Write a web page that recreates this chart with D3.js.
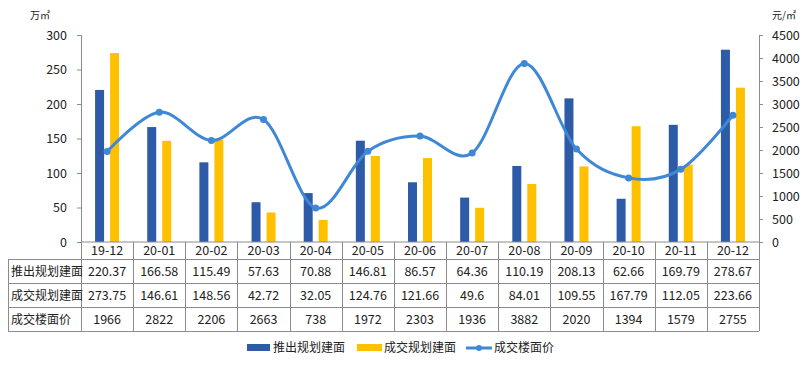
<!DOCTYPE html>
<html><head><meta charset="utf-8">
<script src="https://cdn.jsdelivr.net/npm/d3@7"></script>
<style>body{margin:0;background:#fff}svg{display:block;font-family:"Microsoft YaHei","Noto Sans CJK SC",sans-serif}</style>
</head><body><svg id="c" width="805" height="366"></svg>
<script>
const categories=["19-12","20-01","20-02","20-03","20-04","20-05","20-06","20-07","20-08","20-09","20-10","20-11","20-12"];
const supplyArea=[220.37,166.58,115.49,57.63,70.88,146.81,86.57,64.36,110.19,208.13,62.66,169.79,278.67];
const dealArea=[273.75,146.61,148.56,42.72,32.05,124.76,121.66,49.6,84.01,109.55,167.79,112.05,223.66];
const dealPrice=[1966,2822,2206,2663,738,1972,2303,1936,3882,2020,1394,1579,2755];
const leftTicks=[0,50,100,150,200,250,300];
const rightTicks=[0,500,1000,1500,2000,2500,3000,3500,4000,4500];
const seriesNames=["推出规划建面","成交规划建面","成交楼面价"];
const rowValues=[supplyArea.map(String),dealArea.map(String),dealPrice.map(String)];
const colors=["#2E5BA7","#FFC000","#3F88D5"];
const numFont="'Noto Sans CJK SC',sans-serif";

const svg=d3.select("#c");
const L=81,R=759,T=35,B=242;
const x=d3.scaleBand().domain(categories).range([L,R]);
const yL=d3.scaleLinear().domain([0,300]).range([B,T]);
const yR=d3.scaleLinear().domain([0,4500]).range([B,T]);
const axisColor="#8c8c8c";

// axes
const gl=svg.append("g").attr("transform",`translate(${L},0)`).call(d3.axisLeft(yL).tickValues(leftTicks).tickFormat(d3.format("d")).tickSize(4).tickPadding(10));
const gr=svg.append("g").attr("transform",`translate(${R},0)`).call(d3.axisRight(yR).tickValues(rightTicks).tickFormat(d3.format("d")).tickSize(4).tickPadding(9));
[gl,gr].forEach(g=>{g.selectAll("path,line").attr("stroke",axisColor);g.selectAll("text").attr("font-size",12.5).attr("fill","#222").attr("font-family",numFont);});

svg.append("text").attr("x",30).attr("y",19).attr("font-size",10).attr("fill","#222").text("万㎡");
svg.append("text").attr("x",772).attr("y",19).attr("font-size",10).attr("fill","#222").text("元/㎡");

// bars
const bw=9,off=7.5;
svg.append("g").selectAll("rect").data(supplyArea).join("rect")
 .attr("x",(d,i)=>x(categories[i])+x.bandwidth()/2-off-bw/2).attr("width",bw)
 .attr("y",d=>yL(d)).attr("height",d=>B-yL(d)).attr("fill",colors[0]);
svg.append("g").selectAll("rect").data(dealArea).join("rect")
 .attr("x",(d,i)=>x(categories[i])+x.bandwidth()/2+off-bw/2).attr("width",bw)
 .attr("y",d=>yL(d)).attr("height",d=>B-yL(d)).attr("fill",colors[1]);

// line
const line=d3.line().x((d,i)=>x(categories[i])+x.bandwidth()/2).y(d=>yR(d)).curve(d3.curveCardinal.tension(0));
svg.append("path").datum(dealPrice).attr("d",line).attr("fill","none").attr("stroke",colors[2]).attr("stroke-width",3);
svg.append("g").selectAll("circle").data(dealPrice).join("circle")
 .attr("cx",(d,i)=>x(categories[i])+x.bandwidth()/2).attr("cy",d=>yR(d)).attr("r",3.5).attr("fill",colors[2]);

// table
const tl=8, rows=[B,259,283,307,331];
const tg=svg.append("g");
const gridColor="#8c8c8c";
tg.append("line").attr("x1",L).attr("x2",R).attr("y1",B).attr("y2",B).attr("stroke",gridColor);
rows.slice(1).forEach(yy=>tg.append("line").attr("x1",tl).attr("x2",R).attr("y1",yy+0.5).attr("y2",yy+0.5).attr("stroke",gridColor));
tg.append("line").attr("x1",tl+0.5).attr("x2",tl+0.5).attr("y1",rows[1]).attr("y2",rows[4]).attr("stroke",gridColor);
categories.forEach((c,i)=>{const xx=Math.round(x(c))+0.5;tg.append("line").attr("x1",xx).attr("x2",xx).attr("y1",B).attr("y2",rows[4]).attr("stroke",gridColor);});
tg.append("line").attr("x1",R+0.5).attr("x2",R+0.5).attr("y1",B).attr("y2",rows[4]).attr("stroke",gridColor);
categories.forEach(c=>tg.append("text").attr("x",x(c)+x.bandwidth()/2).attr("y",(rows[0]+rows[1])/2+4.5).attr("text-anchor","middle").attr("font-size",12.5).attr("fill","#222").attr("font-family",numFont).text(c));
rowValues.forEach((vals,r)=>{
 const cy=(rows[r+1]+rows[r+2])/2+4.5;
 tg.append("text").attr("x",tl+3).attr("y",cy).attr("font-size",12).attr("fill","#222").text(seriesNames[r]);
 vals.forEach((v,i)=>tg.append("text").attr("x",x(categories[i])+x.bandwidth()/2).attr("y",cy).attr("text-anchor","middle").attr("font-size",12.5).attr("fill","#222").attr("font-family",numFont).text(v));
});

// legend
const lg=svg.append("g");
const ly=348;
lg.append("rect").attr("x",247).attr("y",ly-4).attr("width",23).attr("height",7).attr("fill",colors[0]);
lg.append("text").attr("x",273).attr("y",ly+4).attr("font-size",12).attr("fill","#222").text(seriesNames[0]);
lg.append("rect").attr("x",357).attr("y",ly-4).attr("width",25).attr("height",7).attr("fill",colors[1]);
lg.append("text").attr("x",384).attr("y",ly+4).attr("font-size",12).attr("fill","#222").text(seriesNames[1]);
lg.append("line").attr("x1",466).attr("x2",492).attr("y1",ly).attr("y2",ly).attr("stroke",colors[2]).attr("stroke-width",3);
lg.append("circle").attr("cx",479).attr("cy",ly).attr("r",3).attr("fill",colors[2]);
lg.append("text").attr("x",494).attr("y",ly+4).attr("font-size",12).attr("fill","#222").text(seriesNames[2]);
</script></body></html>
